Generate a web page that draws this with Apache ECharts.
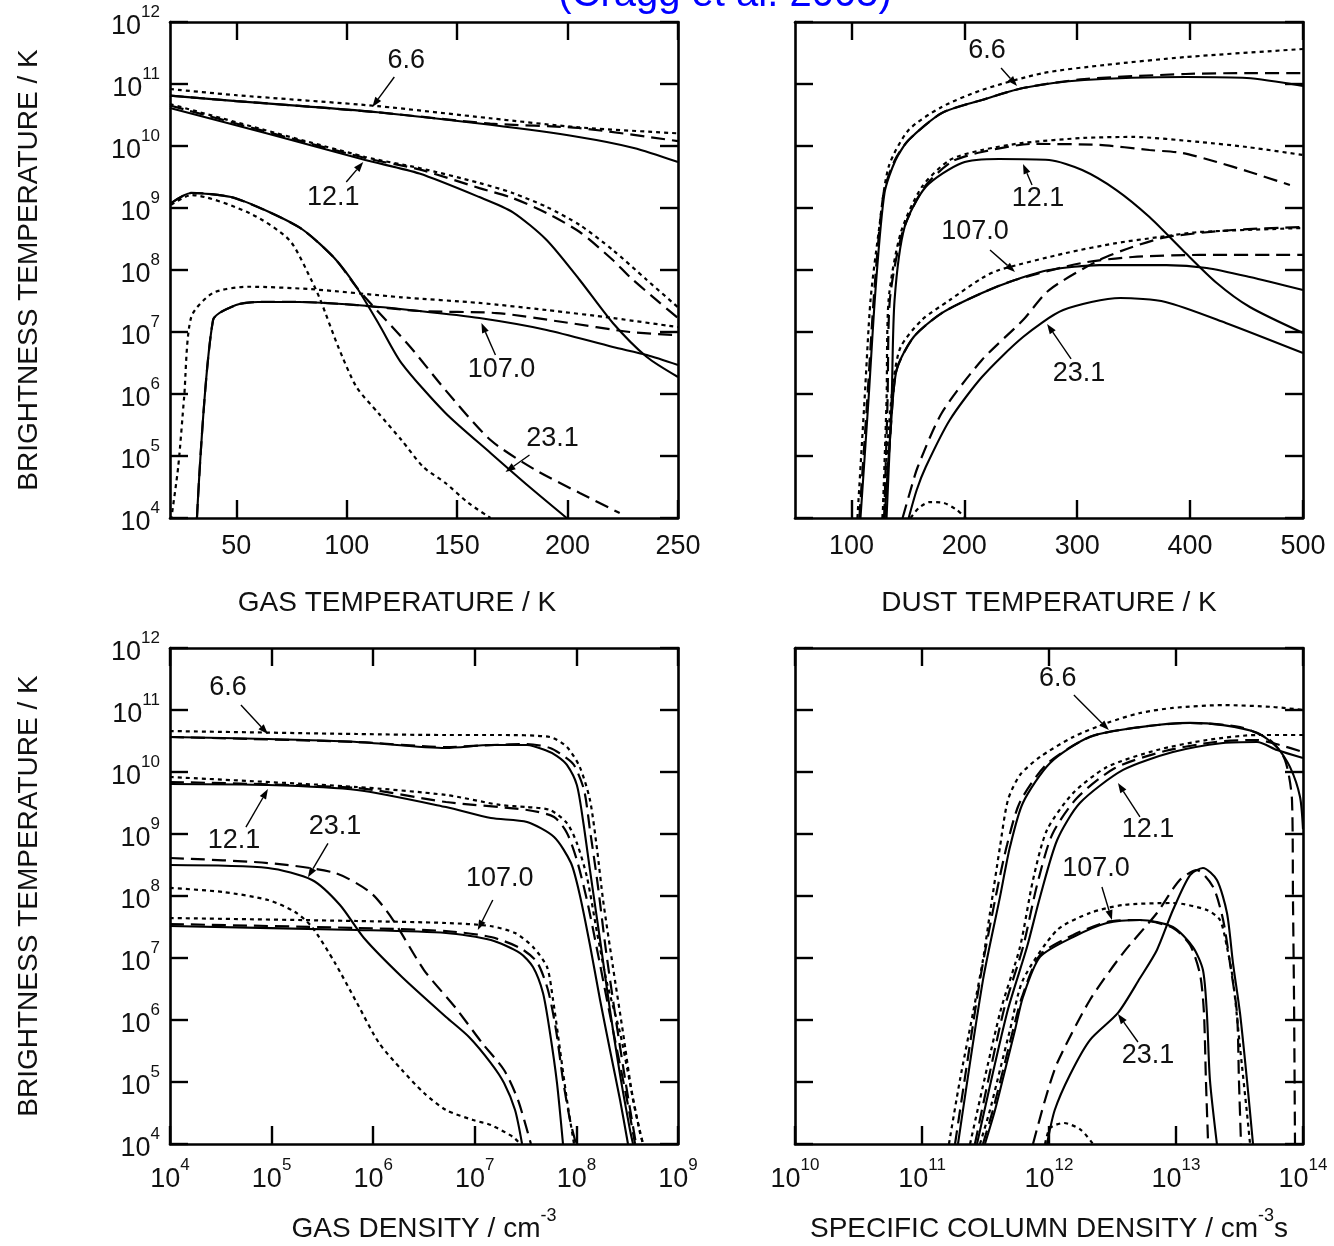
<!DOCTYPE html>
<html><head><meta charset="utf-8">
<script src="https://cdn.jsdelivr.net/npm/echarts/dist/echarts.min.js"></script>
<style>html,body{margin:0;padding:0;background:#fff}#c{width:1334px;height:1246px}</style>
</head><body><div id="c"></div>
<script>
// ---------- tick / category data ----------
const gasTempTicks = [50, 100, 150, 200, 250];
const dustTempTicks = [100, 200, 300, 400, 500];
const gasTempRange = [20, 250];
const dustTempRange = [50, 500];
const brightRange = [1e4, 1e12];
const gasDensRange = [1e4, 1e9];
const colDensRange = [1e10, 1e14];

// ---------- top-left: gas temperature (K) vs brightness temperature (K) ----------
const tl66Solid = [[20,6.5e10],[50,5.3e10],[80,4.4e10],[114,3.5e10],[165,2.2e10],[205,1.4e10],[230,9.3e9],[250,5.5e9]];
const tl66Dash = [[20,6.5e10],[50,5.3e10],[80,4.4e10],[114,3.5e10],[165,2.3e10],[205,1.95e10],[250,1.2e10]];
const tl66Dot = [[20,8.3e10],[50,6.6e10],[114,4.4e10],[165,2.8e10],[205,2.0e10],[250,1.6e10]];
const tl121Solid = [[20,4.1e10],[64.9,1.56e10],[108.4,5.94e9],[132.9,3.6e9],[160.1,1.5e9],[175.1,8.61e8],[190.5,3.05e8],[205.5,6.9e7],[220.5,1.4e7],[235.9,3.95e6],[250,1.88e6]];
const tl121Dash = [[20,4.5e10],[108.4,6.4e9],[132.9,4.2e9],[160.1,2.09e9],[175.1,1.45e9],[190.5,8.3e8],[205.5,4.1e8],[220.5,1.45e8],[228.2,7.71e7],[241.8,2.94e7],[250,1.68e7]];
const tl121Dot = [[20,4.75e10],[108.4,6.65e9],[132.9,4.42e9],[160.1,2.53e9],[175.1,1.75e9],[190.5,1.04e9],[205.5,5.32e8],[220.5,2.1e8],[235.9,6.9e7],[250,2.5e7]];
const tl107Solid = [[32.2,1e4],[39.5,1.56e7],[49.9,2.72e7],[59.9,3.05e7],[78.5,3.05e7],[104.4,2.72e7],[132.9,2.18e7],[160.1,1.68e7],[190.5,1.08e7],[220.5,5.73e6],[235.9,4.26e6],[250,2.94e6]];
const tl107Dash = [[32.2,1e4],[39.5,1.56e7],[49.9,2.72e7],[59.9,3.05e7],[78.5,3.05e7],[104.4,2.72e7],[132.9,2.18e7],[167.8,2.02e7],[197.8,1.45e7],[228.2,1.0e7],[250,8.9e6]];
const tl107Dot = [[20.5,9.3e3],[23.7,6.6e4],[26.4,8.9e5],[29.6,1.74e7],[39.5,4.27e7],[55.9,5.37e7],[84,4.9e7],[124.8,3.63e7],[160.1,2.94e7],[190.5,2.26e7],[220.5,1.68e7],[250,1.2e7]];
const tl231Solid = [[20.5,1.2e9],[29.6,1.75e9],[47.7,1.5e9],[64.9,8.6e8],[80.3,4.42e8],[94.4,1.56e8],[104.4,5.32e7],[114.8,1.3e7],[124.8,3.16e6],[144.7,4.94e5],[165.1,1.12e5],[182.8,3.16e4],[199.6,1e4]];
const tl231Dash = [[20.5,1.2e9],[29.6,1.75e9],[47.7,1.5e9],[64.9,8.6e8],[80.3,4.42e8],[94.4,1.56e8],[104.4,5.32e7],[108.4,3.6e7],[128.8,5.73e6],[144.7,1.16e6],[165.1,1.81e5],[185.5,5.94e4],[205.5,2.53e4],[223.6,1.2e4]];
const tl231Dot = [[20.5,1.12e9],[29.6,1.62e9],[55.9,8.3e8],[74,3.05e8],[84,6.9e7],[88.1,3.28e7],[96.2,5.73e6],[104.4,1.3e6],[114.3,4.94e5],[124.8,1.81e5],[134.7,6.65e4],[144.7,3.67e4],[155.1,1.75e4],[165.1,1e4]];

// ---------- top-right: dust temperature (K) ----------
const tr66Solid = [[108,1e4],[115.1,8.0e5],[121.3,4.75e7],[129.3,1.75e9],[139.1,5.94e9],[150.7,1.25e10],[180,3.4e10],[215.6,5.52e10],[252,8.61e10],[306.2,1.16e11],[396,1.3e11],[450.2,1.25e11],[500,9.3e10]];
const tr66Dash = [[107,1e4],[114,8.0e5],[120.3,4.75e7],[128.5,1.75e9],[138.5,5.94e9],[150.7,1.25e10],[180,3.4e10],[215.6,5.52e10],[252,8.61e10],[306.2,1.2e11],[396,1.45e11],[450.2,1.5e11],[500,1.5e11]];
const tr66Dot = [[105.3,1e4],[111.6,8.0e5],[116.9,3.28e7],[124,3.95e8],[132.9,4.58e9],[150.7,1.81e10],[180,4.26e10],[215.6,8.0e10],[269.8,1.5e11],[324,2.02e11],[396,2.72e11],[500,3.67e11]];
const tr121Solid = [[131.1,1e4],[135.6,8.0e5],[138.2,3.28e7],[147.1,4.94e8],[165.8,2.18e9],[197.8,5.32e9],[230.7,6.17e9],[275.1,5.94e9],[304.4,4.1e9],[334.7,1.95e9],[364,7.16e8],[393.3,2.1e8],[423.6,6.17e7],[452.9,2.53e7],[500,9.64e6]];
const tr121Dash = [[129,1e4],[132,8.0e5],[134,3.28e7],[145,3.95e8],[164,2.1e9],[189,5.6e9],[215.6,8.0e9],[260,1.08e10],[319.6,1.04e10],[364,8.61e9],[393.3,7.71e9],[423.6,5.52e9],[452.9,3.81e9],[488.4,2.35e9]];
const tr121Dot = [[127.6,1e4],[131.1,8.0e5],[132.9,3.28e7],[143.6,3.95e8],[162.3,2.18e9],[187.1,5.94e9],[215.6,8.61e9],[252,1.12e10],[306.2,1.35e10],[348.9,1.4e10],[408.4,1.16e10],[450.2,9.64e9],[500,7.16e9]];
const tr107Solid = [[129.3,1e4],[134.7,2.62e5],[140,2.44e6],[155.1,8.3e6],[180,2.02e7],[215.6,4.26e7],[244.9,6.9e7],[275.1,1.0e8],[319.6,1.2e8],[379.1,1.2e8],[414.7,1.08e8],[452.9,7.71e7],[500,4.75e7]];
const tr107Dash = [[129.3,1e4],[134.7,2.62e5],[140,2.44e6],[155.1,8.3e6],[180,2.02e7],[215.6,4.26e7],[244.9,6.9e7],[304.4,1.3e8],[348.9,1.62e8],[408.4,1.75e8],[500,1.75e8]];
const tr107Dot = [[127.6,1e4],[132.9,2.62e5],[137.3,1.68e6],[143.6,5.73e6],[162.3,1.56e7],[187.1,3.28e7],[215.6,7.4e7],[230.7,1.0e8],[290.2,1.88e8],[334.7,2.72e8],[372.9,3.4e8],[408.4,4.1e8],[500,4.75e8]];
const tr231Solid = [[150.7,1e4],[157.8,2.83e4],[165.8,6.65e4],[187.1,3.81e5],[215.6,1.88e6],[252,8.3e6],[287.6,2.26e7],[338.2,3.53e7],[378.2,3.05e7],[431.6,1.4e7],[500,4.58e6]];
const tr231Dash = [[145.3,1e4],[152.4,2.83e4],[158.7,6.65e4],[180,4.94e5],[215.6,3.53e6],[252,1.56e7],[275.1,4.75e7],[319.6,1.45e8],[348.9,2.35e8],[379.1,3.4e8],[437.8,4.42e8],[500,4.94e8]];
const tr231Dot = [[152.4,1e4],[159.6,1.45e4],[169.3,1.81e4],[181.8,1.75e4],[193.3,1.35e4],[201.3,1e4]];

// ---------- bottom-left: gas density (cm^-3) ----------
const bl66Solid = [[1e4,3.67e10],[9.23e4,3.4e10],[6.92e5,3.05e10],[5.21e6,2.44e10],[1.44e7,2.72e10],[3.27e7,2.72e10],[4.91e7,2.26e10],[6.44e7,1.81e10],[8.07e7,1.3e10],[1.01e8,6.17e9],[1.16e8,1.68e9],[1.36e8,2.62e8],[1.71e8,1.95e7],[2.14e8,1.45e6],[2.69e8,1.3e5],[3.37e8,1.68e4],[3.61e8,1e4]];
const bl66Dash = [[1e4,3.67e10],[6.92e5,3.05e10],[5.21e6,2.53e10],[1.44e7,2.72e10],[3.27e7,2.83e10],[5.5e7,2.44e10],[7.73e7,1.75e10],[9.47e7,1.3e10],[1.19e8,5.13e9],[1.36e8,1.16e9],[1.6e8,1.81e8],[1.95e8,1.35e7],[2.45e8,1e6],[3.08e8,8.95e4],[3.86e8,1e4]];
const bl66Dot = [[1e4,4.58e10],[6.92e5,4.1e10],[5.21e6,3.95e10],[1.77e7,3.95e10],[5.5e7,3.67e10],[8.07e7,2.53e10],[1.08e8,1.2e10],[1.36e8,3.53e9],[1.6e8,5.52e8],[1.83e8,8.61e7],[2.29e8,7.16e6],[2.88e8,6.17e5],[3.61e8,5.13e4],[4.53e8,1e4]];
const bl121Solid = [[1e4,6.4e9],[9.23e4,6.17e9],[6.92e5,5.13e9],[5.21e6,2.72e9],[1.44e7,1.81e9],[3.27e7,1.56e9],[6.03e7,8.95e8],[8.85e7,3.4e8],[1.08e8,1.04e8],[1.36e8,1.62e7],[1.71e8,2.1e6],[2.14e8,3.28e5],[2.69e8,5.13e4],[3.22e8,1e4]];
const bl121Dash = [[1e4,6.9e9],[6.92e5,5.52e9],[5.21e6,3.28e9],[3.27e7,2.44e9],[6.03e7,1.88e9],[8.07e7,1.04e9],[1.01e8,3.81e8],[1.27e8,8.61e7],[1.6e8,1.35e7],[2.0e8,2.1e6],[2.51e8,3.28e5],[3.15e8,5.13e4],[3.78e8,1e4]];
const bl121Dot = [[1e4,8.3e9],[6.92e5,5.73e9],[5.21e6,4.26e9],[1.77e7,2.94e9],[3.27e7,2.72e9],[5.5e7,2.44e9],[8.07e7,1.5e9],[1.01e8,7.16e8],[1.27e8,2.02e8],[1.6e8,2.53e7],[2.0e8,3.95e6],[2.69e8,6.17e5],[3.37e8,9.64e4],[4.23e8,1.5e4],[4.53e8,1e4]];
const bl107Solid = [[1e4,3.28e7],[6.92e5,2.83e7],[5.21e6,2.53e7],[1.44e7,1.95e7],[2.79e7,1.2e7],[3.74e7,7.16e6],[4.69e7,2.72e6],[5.5e7,6.17e5],[6.44e7,9.64e4],[7.38e7,1e4]];
const bl107Dash = [[1e4,3.53e7],[6.92e5,3.05e7],[5.21e6,2.72e7],[1.44e7,2.18e7],[2.79e7,1.45e7],[4.09e7,8.61e6],[5.25e7,3.05e6],[6.3e7,6.9e5],[7.38e7,1.08e5],[8.65e7,2.44e4],[9.91e7,1e4]];
const bl107Dot = [[1e4,4.42e7],[6.92e5,3.95e7],[5.21e6,3.67e7],[1.41e7,3.28e7],[2.49e7,2.53e7],[3.74e7,1.5e7],[5.14e7,7.16e6],[5.89e7,2.1e6],[6.9e7,3.28e5],[8.07e7,5.13e4],[9.47e7,1e4]];
const bl231Solid = [[1e4,3.16e8],[9.23e4,2.83e8],[2.5e5,1.81e8],[4.71e5,7.16e7],[8.11e5,2.1e7],[1.92e6,4.94e6],[5.21e6,1.12e6],[8.77e6,5.32e5],[1.44e7,2.02e5],[1.94e7,9.64e4],[2.49e7,3.53e4],[2.92e7,1e4]];
const bl231Dash = [[1e4,4.1e8],[9.23e4,3.4e8],[4.21e5,2.35e8],[9.51e5,1.12e8],[1.57e6,4.1e7],[3.16e6,6.4e6],[6.38e6,1.62e6],[1.18e7,4.26e5],[1.94e7,1.56e5],[2.66e7,5.13e4],[3.57e7,1e4]];
const bl231Dot = [[1e4,1.35e8],[3.33e4,1.16e8],[9.23e4,8.61e7],[1.7e5,5.52e7],[2.5e5,3.16e7],[4.21e5,8.3e6],[6.92e5,1.88e6],[1.14e6,4.26e5],[1.92e6,1.56e5],[3.16e6,6.65e4],[5.21e6,3.53e4],[9.6e6,2.44e4],[1.44e7,2.02e4],[2.38e7,1.3e4],[2.79e7,1e4]];

// ---------- bottom-right: specific column density (cm^-3 s) ----------
const br66Solid = [[1.92e11,1e4],[3.02e11,4.4e6],[4.11e11,9.6e7],[4.93e11,6.2e8],[6.24e11,3.2e9],[1.02e12,1.4e10],[2.1e12,3.7e10],[5.21e12,5.3e10],[1.29e13,6.2e10],[2.35e13,5.7e10],[4.35e13,4.3e10],[6.24e13,2.5e10],[7.91e13,1.2e10],[9.47e13,4.0e9],[1e14,1.2e9]];
const br66Dash = [[1.82e11,1e4],[2.86e11,4.4e6],[3.83e11,1.04e8],[4.67e11,6.65e8],[5.91e11,3.28e9],[9.64e11,1.35e10],[2.1e12,3.67e10],[5.21e12,5.32e10],[1.29e13,6.17e10],[3.19e13,5.3e10],[5.5e13,3.28e10],[7.22e13,1.56e10],[8.19e13,3.53e9],[8.34e13,8.61e7],[8.5e13,2.1e6],[8.65e13,1e4]];
const br66Dot = [[1.63e11,1e4],[1.99e11,1.08e5],[2.52e11,1.3e6],[3.02e11,9.29e6],[3.43e11,5.32e7],[4.11e11,6.17e8],[4.75e11,3.53e9],[5.91e11,8.95e9],[8.5e11,1.75e10],[1.55e12,3.67e10],[2.86e12,6.17e10],[5.21e12,8.95e10],[9.46e12,1.08e11],[2.35e13,1.2e11],[5.81e13,1.12e11],[1e14,1e11]];
const br121Solid = [[2.71e11,1e4],[4.67e11,1.3e6],[6.71e11,1.5e7],[8.5e11,9.64e7],[1.16e12,8.0e8],[1.75e12,3.16e9],[3.83e12,1.08e10],[9.46e12,2.1e10],[2.35e13,2.94e10],[4.35e13,3.05e10],[6.24e13,2.26e10],[1e14,1.68e10]];
const br121Dash = [[2.61e11,1e4],[4.35e11,1.3e6],[6.24e11,1.5e7],[8.05e11,1.5e8],[1.06e12,9.84e8],[1.66e12,3.81e9],[3.31e12,1.16e10],[8.18e12,2.18e10],[2.03e13,3.05e10],[4.35e13,3.28e10],[6.59e13,2.72e10],[1e14,2.1e10]];
const br121Dot = [[2.39e11,1e4],[4.11e11,1.3e6],[5.91e11,1.5e7],[7.48e11,1.81e8],[9.64e11,1.16e9],[1.55e12,4.58e9],[2.86e12,1.2e10],[7.08e12,2.26e10],[1.75e13,3.28e10],[4.35e13,3.95e10],[1e14,3.95e10]];
const br107Solid = [[3.13e11,1e4],[3.76e11,3.53e4],[4.51e11,1.56e5],[5.4e11,6.9e5],[6.24e11,2.35e6],[8.5e11,1.04e7],[1.55e12,2.18e7],[2.86e12,3.67e7],[5.21e12,4.1e7],[9.46e12,3.16e7],[1.36e13,1.5e7],[1.63e13,6.4e6],[1.75e13,1.3e6],[1.85e13,1.08e5],[2.1e13,1e4]];
const br107Dash = [[3.02e11,1e4],[3.62e11,3.53e4],[4.35e11,1.56e5],[5.21e11,6.9e5],[6.13e11,2.35e6],[8.5e11,1.12e7],[1.55e12,2.35e7],[2.86e12,3.81e7],[5.21e12,4.1e7],[9.46e12,3.05e7],[1.29e13,1.62e7],[1.55e13,5.32e6],[1.66e13,1.3e6],[1.72e13,1.08e5],[1.79e13,1e4]];
const br107Dot = [[2.86e11,1e4],[3.43e11,3.53e4],[4.11e11,1.56e5],[4.93e11,6.9e5],[6.24e11,4.42e6],[1.16e12,2.83e7],[2.1e12,5.32e7],[3.83e12,7.16e7],[9.46e12,7.71e7],[1.75e13,5.94e7],[2.22e13,4.1e7],[2.52e13,1.5e7],[2.81e13,4.42e6],[3.19e13,3.67e5],[3.62e13,3.16e4],[3.83e13,1e4]];
const br231Solid = [[9.64e11,1e4],[1.11e12,3.53e4],[1.46e12,1.3e5],[2.1e12,4.75e5],[3.49e12,1.3e6],[5.21e12,4.75e6],[7.08e12,1.35e7],[9.46e12,5.94e7],[1.29e13,2.18e8],[1.63e13,2.83e8],[2.1e13,1.81e8],[2.52e13,5.32e7],[2.81e13,8.3e6],[3.19e13,1.3e6],[3.62e13,1.08e5],[4.04e13,1e4]];
const br231Dash = [[7.48e11,1e4],[9.31e11,5.13e4],[1.16e12,2.02e5],[2.1e12,2.1e6],[3.83e12,1.2e7],[7.08e12,5.32e7],[1.07e13,1.81e8],[1.46e13,2.62e8],[1.96e13,1.4e8],[2.35e13,4.1e7],[2.66e13,8.3e6],[3.02e13,1.3e6],[3.13e13,1.08e5],[3.25e13,1e4]];
const br231Dot = [[9.31e11,1e4],[1.02e12,1.81e4],[1.31e12,2.18e4],[1.79e12,1.68e4],[2.22e12,1e4]];

// ---------- annotation labels (text + arrow tip in data coordinates) ----------
const annoPanel = [0,0,0,0, 1,1,1,1, 2,2,2,2, 3,3,3,3];
const annoText = ['6.6','12.1','107.0','23.1', '6.6','12.1','107.0','23.1', '6.6','12.1','23.1','107.0', '6.6','12.1','107.0','23.1'];
const annoTip = [[111.6,4.26e10],[107.5,5.52e9],[161,1.4e7],[171.9,5.52e4],
                 [246.7,9.29e10],[252,5.13e9],[244.9,9.29e7],[273.3,1.35e7],
                 [9.2e4,4.1e10],[9.2e4,5.3e9],[2.28e5,2.0e8],[1.07e7,2.83e7],
                 [2.96e12,4.75e10],[3.49e12,6.65e9],[3.13e12,4.1e7],[3.49e12,1.25e6]];
// layout: pixel offsets of arrow tail and label centre from the tip
const annoTailOff = [[22,-30],[-17,20],[14,32],[24,-17],[-16,-18],[9,21],[-25,-22],[24,35],[-27,-29],[-22,38],[20,-34],[15,-30],[-35,-35],[22,34],[-10,-33],[20,28]];
const annoLabOff = [[34,-46],[-30,36],[20,47],[47,-33],[-30,-35],[15,35],[-40,-40],[32,50],[-40,-46],[-34,51],[27,-51],[22,-51],[-51,-51],[30,47],[-16,-51],[30,42]];

// ---------- build chart ----------
const FONT = "'Liberation Sans', Arial, Helvetica, sans-serif";
const INK = '#111';
const richDecade = {
  b: {fontSize: 27, lineHeight: 36, verticalAlign: 'bottom', fontFamily: FONT, color: INK},
  s: {fontSize: 17, lineHeight: 17, verticalAlign: 'top', fontFamily: FONT, color: INK}
};
function decade(v) { return '{b|10}{s|' + Math.round(Math.log10(v)) + '}'; }
const frame = {show: true, onZero: false, lineStyle: {color: '#000', width: 2.6}};
function tick(custom) {
  const t = {show: true, inside: true, length: 18, lineStyle: {color: '#000', width: 2.4}};
  if (custom) t.customValues = custom;
  return t;
}
function nameStyle(padRight) {
  return {fontSize: 28, fontFamily: FONT, color: INK, padding: [0, padRight || 0, 0, 0],
    rich: {n: {fontSize: 28, lineHeight: 36, verticalAlign: 'bottom', fontFamily: FONT, color: INK},
           s: {fontSize: 18, lineHeight: 18, verticalAlign: 'top', fontFamily: FONT, color: INK}}};
}
const linLabel = (vals) => ({customValues: vals, fontSize: 27, fontFamily: FONT, color: INK, margin: 15, showMinLabel: true, showMaxLabel: true});
const logLabelX = {formatter: decade, rich: richDecade, margin: 13, showMinLabel: true, showMaxLabel: true, hideOverlap: false};
const logLabelY = {formatter: decade, rich: richDecade, margin: 10, showMinLabel: true, showMaxLabel: true, hideOverlap: false};

const grids = [
  {left: 170, top: 22, width: 508, height: 496},
  {left: 795, top: 22, width: 508, height: 496},
  {left: 170, top: 648, width: 508, height: 496},
  {left: 795, top: 648, width: 508, height: 496}
];
const noSplit = {show: false};
const xAxes = [
  {gridIndex: 0, type: 'value', min: gasTempRange[0], max: gasTempRange[1], axisLine: frame, axisTick: tick(gasTempTicks), axisLabel: linLabel(gasTempTicks), splitLine: noSplit,
   name: 'GAS TEMPERATURE / K', nameLocation: 'middle', nameGap: 71, nameTextStyle: nameStyle(54)},
  {gridIndex: 0, type: 'value', position: 'top', min: gasTempRange[0], max: gasTempRange[1], axisLine: frame, axisTick: tick(gasTempTicks), axisLabel: {show: false}, splitLine: noSplit},
  {gridIndex: 1, type: 'value', min: dustTempRange[0], max: dustTempRange[1], axisLine: frame, axisTick: tick(dustTempTicks), axisLabel: linLabel(dustTempTicks), splitLine: noSplit,
   name: 'DUST TEMPERATURE / K', nameLocation: 'middle', nameGap: 71, nameTextStyle: nameStyle(0)},
  {gridIndex: 1, type: 'value', position: 'top', min: dustTempRange[0], max: dustTempRange[1], axisLine: frame, axisTick: tick(dustTempTicks), axisLabel: {show: false}, splitLine: noSplit},
  {gridIndex: 2, type: 'log', logBase: 10, min: gasDensRange[0], max: gasDensRange[1], axisLine: frame, axisTick: tick(), axisLabel: logLabelX, splitLine: noSplit, minorTick: {show: false},
   name: '{n|GAS DENSITY / cm}{s|-3}', nameLocation: 'middle', nameGap: 63, nameTextStyle: nameStyle(0)},
  {gridIndex: 2, type: 'log', logBase: 10, position: 'top', min: gasDensRange[0], max: gasDensRange[1], axisLine: frame, axisTick: tick(), axisLabel: {show: false}, splitLine: noSplit},
  {gridIndex: 3, type: 'log', logBase: 10, min: colDensRange[0], max: colDensRange[1], axisLine: frame, axisTick: tick(), axisLabel: logLabelX, splitLine: noSplit,
   name: '{n|SPECIFIC COLUMN DENSITY / cm}{s|-3}{n|s}', nameLocation: 'middle', nameGap: 63, nameTextStyle: nameStyle(0)},
  {gridIndex: 3, type: 'log', logBase: 10, position: 'top', min: colDensRange[0], max: colDensRange[1], axisLine: frame, axisTick: tick(), axisLabel: {show: false}, splitLine: noSplit}
];
const yAxes = [];
for (let g = 0; g < 4; g++) {
  const labelled = (g === 0 || g === 2);
  const left = {gridIndex: g, type: 'log', logBase: 10, min: brightRange[0], max: brightRange[1], axisLine: frame, axisTick: tick(),
    axisLabel: labelled ? logLabelY : {show: false}, splitLine: noSplit};
  if (labelled) {
    Object.assign(left, {name: 'BRIGHTNESS TEMPERATURE / K', nameLocation: 'middle', nameRotate: 90, nameGap: 127,
      nameTextStyle: {fontSize: 28, fontFamily: FONT, color: INK}});
  }
  yAxes.push(left);
  yAxes.push({gridIndex: g, type: 'log', logBase: 10, position: 'right', min: brightRange[0], max: brightRange[1], axisLine: frame, axisTick: tick(), axisLabel: {show: false}, splitLine: noSplit});
}

const DASH = {solid: 'solid', dash: [14, 7], dot: [4, 4]};
const seriesDefs = [
  [0, tl66Dot, 'dot'], [0, tl66Dash, 'dash'], [0, tl66Solid, 'solid'],
  [0, tl121Dot, 'dot'], [0, tl121Dash, 'dash'], [0, tl121Solid, 'solid'],
  [0, tl107Dot, 'dot'], [0, tl107Dash, 'dash'], [0, tl107Solid, 'solid'],
  [0, tl231Dot, 'dot'], [0, tl231Dash, 'dash'], [0, tl231Solid, 'solid'],
  [1, tr66Dot, 'dot'], [1, tr66Dash, 'dash'], [1, tr66Solid, 'solid'],
  [1, tr121Dot, 'dot'], [1, tr121Dash, 'dash'], [1, tr121Solid, 'solid'],
  [1, tr107Dot, 'dot'], [1, tr107Dash, 'dash'], [1, tr107Solid, 'solid'],
  [1, tr231Dot, 'dot'], [1, tr231Dash, 'dash'], [1, tr231Solid, 'solid'],
  [2, bl66Dot, 'dot'], [2, bl66Dash, 'dash'], [2, bl66Solid, 'solid'],
  [2, bl121Dot, 'dot'], [2, bl121Dash, 'dash'], [2, bl121Solid, 'solid'],
  [2, bl107Dot, 'dot'], [2, bl107Dash, 'dash'], [2, bl107Solid, 'solid'],
  [2, bl231Dot, 'dot'], [2, bl231Dash, 'dash'], [2, bl231Solid, 'solid'],
  [3, br66Dot, 'dot'], [3, br66Dash, 'dash'], [3, br66Solid, 'solid'],
  [3, br121Dot, 'dot'], [3, br121Dash, 'dash'], [3, br121Solid, 'solid'],
  [3, br107Dot, 'dot'], [3, br107Dash, 'dash'], [3, br107Solid, 'solid'],
  [3, br231Dot, 'dot'], [3, br231Dash, 'dash'], [3, br231Solid, 'solid']
];
const series = seriesDefs.map(([g, d, s]) => ({
  type: 'line', xAxisIndex: 2 * g, yAxisIndex: 2 * g, data: d,
  showSymbol: false, symbol: 'none', smooth: 0.25, clip: true, silent: true,
  lineStyle: {color: '#000', width: s === 'solid' ? 2.1 : 2.2, type: DASH[s]},
  z: s === 'solid' ? 4 : 3
}));

const chart = echarts.init(document.getElementById('c'), null, {renderer: 'canvas'});
chart.setOption({
  animation: false,
  backgroundColor: '#fff',
  grid: grids,
  xAxis: xAxes,
  yAxis: yAxes,
  series: series
});

// annotations
const elements = [{
  type: 'text', z: 100,
  style: {text: '(Cragg et al. 2005)', x: 725, y: -5, textAlign: 'center', textVerticalAlign: 'middle',
          fontSize: 40, fontFamily: FONT, fill: '#0000ff'}
}];
annoTip.forEach((tip, i) => {
  const g = annoPanel[i];
  const P = chart.convertToPixel({xAxisIndex: 2 * g, yAxisIndex: 2 * g}, tip);
  const T = [P[0] + annoTailOff[i][0], P[1] + annoTailOff[i][1]];
  const L = [P[0] + annoLabOff[i][0], P[1] + annoLabOff[i][1]];
  const dx = P[0] - T[0], dy = P[1] - T[1];
  const len = Math.hypot(dx, dy);
  const ux = dx / len, uy = dy / len;
  const hl = 10, hw = 3.6;
  const bx = P[0] - ux * hl, by = P[1] - uy * hl;
  elements.push({type: 'line', z: 100, shape: {x1: T[0], y1: T[1], x2: bx, y2: by}, style: {stroke: '#000', lineWidth: 1.4}});
  elements.push({type: 'polygon', z: 100, shape: {points: [[P[0], P[1]], [bx - uy * hw, by + ux * hw], [bx + uy * hw, by - ux * hw]]}, style: {fill: '#000'}});
  elements.push({type: 'text', z: 100, style: {text: annoText[i], x: L[0], y: L[1], textAlign: 'center', textVerticalAlign: 'middle',
    fontSize: 27, fontFamily: FONT, fill: INK}});
});
chart.setOption({graphic: {elements: elements}});
</script>
</body></html>
